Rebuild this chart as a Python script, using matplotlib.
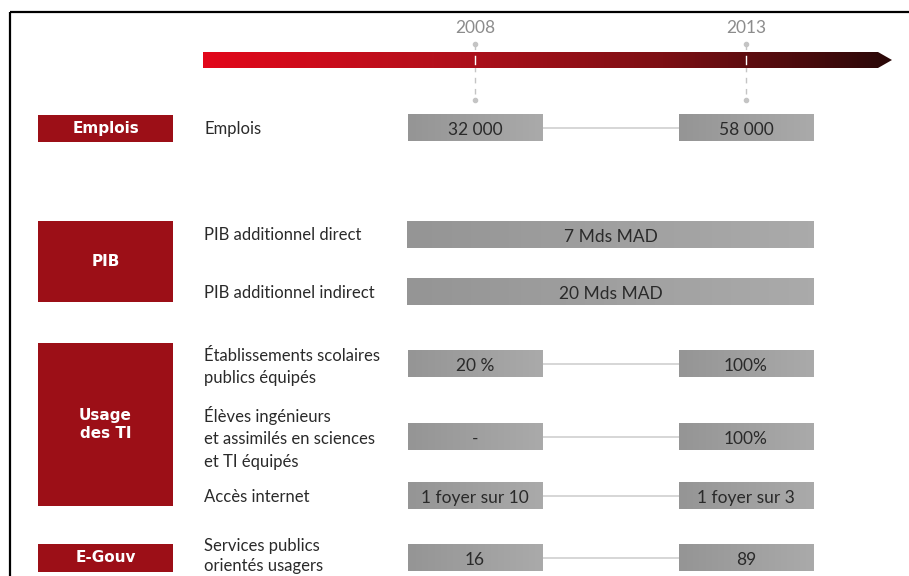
import matplotlib
matplotlib.use("Agg")
import matplotlib.pyplot as plt
import numpy as np
from matplotlib.patches import Polygon
from matplotlib.colors import LinearSegmentedColormap

# ---------------- data ----------------
years = ["2008", "2013"]
groups = ["Emplois", "PIB", "Usage\ndes TI", "E-Gouv"]
row_labels = [
    "Emplois",
    "PIB additionnel direct",
    "PIB additionnel indirect",
    "Établissements scolaires\npublics équipés",
    "Élèves ingénieurs\net assimilés en sciences\net TI équipés",
    "Accès internet",
    "Services publics\norientés usagers",
]
row_group = [0, 1, 1, 2, 2, 2, 3]
values_2008 = ["32 000", None, None, "20 %", "-", "1 foyer sur 10", "16"]
values_2013 = ["58 000", None, None, "100%", "100%", "1 foyer sur 3", "89"]
values_span = [None, "7 Mds MAD", "20 Mds MAD", None, None, None, None]

# ---------------- layout (pixels) ----------------
W, H = 909, 576
row_y = [128, 235, 292, 364, 437, 496, 558]
label_y = [127, 233, 291, 365, 436, 495, 554]
label_ls = [1.5, 1.5, 1.5, 1.5, 1.5, 1.5, 1.35]
group_span = [(115, 142), (221, 302), (343, 506), (544, 572)]
year_x = [475, 746]
box_w = 135
box_h = 27
span_left, span_right = 407, 814
group_left, group_right = 38, 173
label_x = 204
dy = 1.8  # visual centring offset for text

RED = "#9c0f17"
TXT = "#2a2a2a"
FONT = "Lato"

fig = plt.figure(figsize=(W / 100, H / 100), dpi=100)
ax = fig.add_axes([0, 0, 1, 1])
ax.set_xlim(0, W)
ax.set_ylim(H, 0)
ax.axis("off")

# frame
ax.plot([10, W], [12, 12], color="black", lw=1.6, solid_capstyle="butt")
ax.plot([10, 10], [12, H], color="black", lw=1.6, solid_capstyle="butt")

# gradient timeline arrow
cmap = LinearSegmentedColormap.from_list("arr", ["#e2071a", "#b5101c", "#7d0f14", "#2a0808"])
grad = np.linspace(0, 1, 512).reshape(1, -1)
im = ax.imshow(grad, cmap=cmap, extent=[203, 892, 68, 52], aspect="auto", zorder=2)
arrow = Polygon([[203, 52], [878, 52], [892, 60], [878, 68], [203, 68]], closed=True,
                facecolor="none", edgecolor="none", transform=ax.transData)
ax.add_patch(arrow)
im.set_clip_path(arrow)

for yx, yr in zip(year_x, years):
    ax.text(yx, 26 + dy, yr, ha="center", va="center", fontsize=12.5, color="#8c8c8c",
            family=FONT)
    ax.plot([yx, yx], [44, 100], color="#c4c4c4", lw=1, ls=(0, (4, 4)), zorder=1)
    ax.plot([yx], [44], marker="o", ms=3, color="#c4c4c4", zorder=1)
    ax.plot([yx], [100], marker="o", ms=3, color="#c4c4c4", zorder=1)
    ax.plot([yx, yx], [56, 64], color="white", lw=1, zorder=3)

# group boxes
for g, (t, b) in zip(groups, group_span):
    ax.barh((t + b) / 2, group_right - group_left, height=b - t, left=group_left,
            color=RED, zorder=2)
    ax.text((group_left + group_right) / 2, (t + b) / 2, g, ha="center", va="center",
            color="white", fontsize=11, fontweight="bold", family="DejaVu Sans",
            linespacing=1.3, zorder=3)

# row labels
for y, lab, ls in zip(label_y, row_labels, label_ls):
    ax.text(label_x, y + dy, lab, ha="left", va="center", fontsize=12, color=TXT,
            family=FONT, linespacing=ls)

# value boxes (slight left-to-right lightening)
cmap_box = LinearSegmentedColormap.from_list("box", ["#959595", "#aaaaaa"])


def grey_box(x0, x1, y):
    img = ax.imshow(np.linspace(0, 1, 64).reshape(1, -1), cmap=cmap_box,
                    extent=[x0, x1, y + box_h / 2, y - box_h / 2], aspect="auto",
                    zorder=2)
    return img


for y, v8, v13, vs in zip(row_y, values_2008, values_2013, values_span):
    if vs is not None:
        grey_box(span_left, span_right, y)
        ax.text((span_left + span_right) / 2, y + dy, vs, ha="center", va="center",
                fontsize=12.5, color=TXT, family=FONT, zorder=3)
    else:
        l8 = year_x[0] - box_w / 2
        l13 = year_x[1] - box_w / 2
        ax.plot([l8 + box_w, l13], [y, y], color="#cfcfcf", lw=1.2, zorder=1)
        grey_box(l8, l8 + box_w, y)
        grey_box(l13, l13 + box_w, y)
        ax.text(year_x[0], y + dy, v8, ha="center", va="center", fontsize=12.5,
                color=TXT, family=FONT, zorder=3)
        ax.text(year_x[1], y + dy, v13, ha="center", va="center", fontsize=12.5,
                color=TXT, family=FONT, zorder=3)

ax.set_xlim(0, W)
ax.set_ylim(H, 0)
fig.savefig("out.png", dpi=100, facecolor="white")
